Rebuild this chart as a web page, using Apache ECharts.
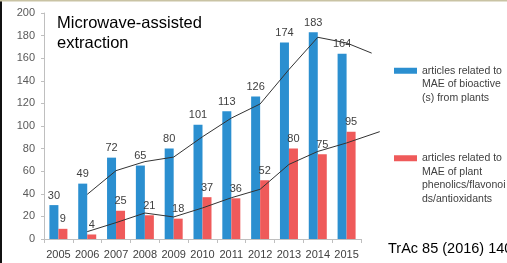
<!DOCTYPE html>
<html>
<head>
<meta charset="utf-8">
<script src="https://cdn.jsdelivr.net/npm/echarts@6/dist/echarts.min.js"></script>
<style>html,body{margin:0;padding:0;background:#fff}#c{width:507px;height:263px}</style>
</head>
<body>
<div id="c"></div>
<script>
var categories = ['2005','2006','2007','2008','2009','2010','2011','2012','2013','2014','2015'];
var bioactive = [30, 49, 72, 65, 80, 101, 113, 126, 174, 183, 164];
var phenolics = [9, 4, 25, 21, 18, 37, 36, 52, 80, 75, 95];
// trend lines (2-period moving average, plus the short forward extension seen past the axis)
var trendX = [1, 2, 3, 4, 5, 6, 7, 8, 9, 10];
var bioTrend = [39.5, 60.5, 68.5, 72.5, 90.5, 107, 119.5, 150, 178.5, 173.5];
var phenTrend = [6.5, 14.5, 23, 19.5, 27.5, 36.5, 44, 66, 77.5, 85];
var bioTrendEnd = [10.87, 164.5];
var phenTrendEnd = [11.15, 95];
var yTicks = {min: 0, max: 200, interval: 20};
var seriesNames = [
  'articles related to MAE of bioactive (s) from plants',
  'articles related to MAE of plant phenolics/flavonoids/antioxidants'
];
var legendLines = [
  ['articles related to', 'MAE of bioactive', '(s) from plants'],
  ['articles related to', 'MAE of plant', 'phenolics/flavonoi', 'ds/antioxidants']
];
var titleText = 'Microwave-assisted\nextraction';
var citation = 'TrAc 85 (2016) 140';

function pts(xs, ys, end) {
  var out = xs.map(function (x, i) { return [x, ys[i]]; });
  out.push(end);
  return out;
}
// put the icon beside the first line: pad the text block with blank lines above
function legendFormatter(name) {
  var lines = legendLines[seriesNames.indexOf(name)];
  var pad = new Array(lines.length).join('\n');
  return pad + lines.join('\n');
}

var G = {left: 44, top: 13, width: 317, height: 226};
var nCat = categories.length;
var trendSpan = 12; // the trend grid is one category wider so the lines can run past the axis end

var chart = echarts.init(document.getElementById('c'), null, {renderer: 'canvas'});
var labelStyle = {show: true, position: 'top', distance: 4, fontSize: 11, color: '#404040', fontFamily: 'Liberation Sans'};
var legendText = {fontSize: 10.5, lineHeight: 13.5, color: '#404040', fontFamily: 'Liberation Sans'};

chart.setOption({
  animation: false,
  backgroundColor: '#ffffff',
  title: [
    {text: titleText, left: 57, top: 13, padding: 0,
     textStyle: {fontSize: 16.5, fontWeight: 'normal', color: '#000', fontFamily: 'Liberation Sans', lineHeight: 20}},
    {text: citation, left: 388, top: 241, padding: 0,
     textStyle: {fontSize: 14.5, fontWeight: 'normal', color: '#000', fontFamily: 'Liberation Sans'}}
  ],
  legend: [
    {data: [seriesNames[0]], left: 394, top: 37, padding: 0, itemWidth: 23, itemHeight: 6,
     icon: 'rect', selectedMode: false, formatter: legendFormatter, textStyle: legendText},
    {data: [seriesNames[1]], left: 394, top: 111, padding: 0, itemWidth: 23, itemHeight: 6,
     icon: 'rect', selectedMode: false, formatter: legendFormatter, textStyle: legendText}
  ],
  grid: [
    {left: G.left, top: G.top, width: G.width, height: G.height, containLabel: false},
    {left: G.left, top: G.top, width: G.width * trendSpan / nCat, height: G.height, containLabel: false}
  ],
  xAxis: [
    {type: 'category', gridIndex: 0, data: categories,
     axisLine: {show: true, lineStyle: {color: '#bfbfbf', width: 1}},
     axisTick: {show: true, alignWithLabel: false, length: 4, lineStyle: {color: '#bfbfbf'}},
     axisLabel: {fontSize: 11, color: '#404040', margin: 10, fontFamily: 'Liberation Sans', interval: 0}},
    {type: 'value', gridIndex: 1, min: -0.5, max: trendSpan - 0.5, show: false}
  ],
  yAxis: [
    {type: 'value', gridIndex: 0, min: yTicks.min, max: yTicks.max, interval: yTicks.interval,
     axisLine: {show: true, lineStyle: {color: '#bfbfbf', width: 1}},
     axisTick: {show: true, length: 3, lineStyle: {color: '#bfbfbf'}},
     splitLine: {show: false},
     axisLabel: {fontSize: 11, color: '#595959', margin: 9, fontFamily: 'Liberation Sans'}},
    {type: 'value', gridIndex: 1, min: yTicks.min, max: yTicks.max, show: false}
  ],
  series: [
    {name: seriesNames[0], type: 'bar', data: bioactive, barWidth: 9, barGap: '0%',
     itemStyle: {color: '#2b8fd0'}, label: labelStyle},
    {name: seriesNames[1], type: 'bar', data: phenolics, barWidth: 9, barGap: '0%',
     itemStyle: {color: '#ef5a5a'}, label: labelStyle},
    {name: 'trend1', type: 'line', xAxisIndex: 1, yAxisIndex: 1, data: pts(trendX, bioTrend, bioTrendEnd),
     showSymbol: false, symbol: 'none', z: 5, lineStyle: {color: '#333', width: 1}},
    {name: 'trend2', type: 'line', xAxisIndex: 1, yAxisIndex: 1, data: pts(trendX, phenTrend, phenTrendEnd),
     showSymbol: false, symbol: 'none', z: 5, lineStyle: {color: '#333', width: 1}}
  ],
  graphic: [
    {type: 'rect', left: 0, top: 0, shape: {width: 2, height: 263}, style: {fill: '#111'}},
    {type: 'rect', left: 0, top: 0, shape: {width: 507, height: 1.5}, style: {fill: '#c9c3a4'}}
  ]
});
</script>
</body>
</html>
